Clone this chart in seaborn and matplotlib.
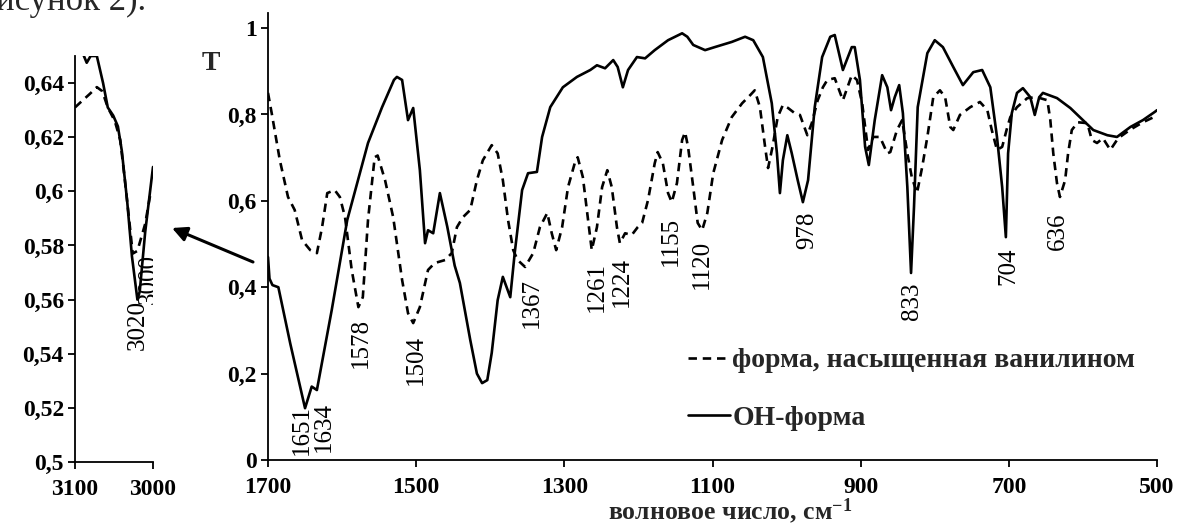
import numpy as np
import pandas as pd
import matplotlib
matplotlib.use("Agg")
import matplotlib.pyplot as plt
import seaborn as sns

# ---------------- data ----------------
oh_wn = [1700, 1698, 1694, 1686, 1670, 1650, 1641, 1634, 1614, 1593, 1565, 1546, 1530, 1526, 1519,
         1511, 1504, 1495, 1488, 1484, 1477, 1468, 1458, 1448, 1441, 1427, 1418, 1411, 1404, 1398,
         1390, 1383, 1373, 1367, 1357, 1349, 1337, 1330, 1319, 1302, 1283, 1265, 1256, 1245, 1234,
         1228, 1221, 1214, 1202, 1191, 1178, 1160, 1141, 1134, 1126, 1110, 1097, 1074, 1056, 1045,
         1032, 1020, 1013, 1009, 1005, 999, 993, 985, 978, 971, 962, 952, 941, 935, 924, 912, 908,
         901, 894, 889, 881, 871, 864, 859, 854, 848, 843, 837, 832, 828, 823, 810, 800, 789, 775,
         762, 748, 736, 725, 716, 709, 704, 701, 696, 689, 681, 671, 665, 659, 654, 635, 617, 600,
         586, 567, 554, 536, 519, 503, 500]
oh_t = [0.47, 0.42, 0.405, 0.400, 0.27, 0.12, 0.17, 0.162, 0.347, 0.556, 0.734, 0.817, 0.88, 0.887, 0.88,
        0.787, 0.815, 0.671, 0.502, 0.532, 0.525, 0.618, 0.54, 0.45, 0.41, 0.278, 0.2, 0.178, 0.185, 0.248,
        0.37, 0.424, 0.377, 0.479, 0.625, 0.664, 0.667, 0.748, 0.817, 0.863, 0.887, 0.903, 0.914, 0.907, 0.926,
        0.91, 0.863, 0.903, 0.933, 0.93, 0.949, 0.972, 0.988, 0.98, 0.961, 0.949, 0.956, 0.968, 0.98, 0.972,
        0.933, 0.826, 0.71, 0.618, 0.694, 0.752, 0.71, 0.648, 0.597, 0.648, 0.817, 0.933, 0.98, 0.984, 0.903, 0.956, 0.956,
        0.88, 0.725, 0.683, 0.787, 0.891, 0.863, 0.81, 0.84, 0.868, 0.803, 0.632, 0.433, 0.586, 0.817, 0.942, 0.972, 0.956, 0.91,
        0.868, 0.898, 0.903, 0.863, 0.748, 0.632, 0.516, 0.71, 0.803, 0.85, 0.861, 0.84, 0.799, 0.84, 0.85, 0.838, 0.815, 0.787,
        0.764, 0.752, 0.748, 0.771, 0.787, 0.806, 0.81]

van_wn = [1700, 1695, 1684, 1673, 1664, 1654, 1643, 1634, 1627, 1620, 1610, 1603, 1596, 1587, 1578,
          1572, 1565, 1556, 1552, 1542, 1531, 1519, 1511, 1504, 1495, 1484, 1475, 1461, 1452, 1445,
          1437, 1427, 1418, 1410, 1398, 1390, 1383, 1376, 1369, 1363, 1353, 1342, 1333, 1323, 1317,
          1311, 1303, 1295, 1286, 1282, 1275, 1268, 1263, 1256, 1249, 1242, 1236, 1229, 1225, 1218,
          1209, 1201, 1195, 1187, 1178, 1174, 1167, 1160, 1155, 1148, 1141, 1137, 1133, 1126, 1120,
          1114, 1107, 1099, 1087, 1074, 1060, 1049, 1043, 1036, 1029, 1025, 1019, 1012, 1005, 998,
          989, 982, 972, 966, 958, 951, 945, 935, 924, 912, 905, 898, 890, 883, 874, 864, 860, 851,
          844, 837, 831, 824, 817, 810, 802, 793, 786, 779, 775, 766, 752, 739, 729, 723, 716, 709,
          702, 698, 689, 675, 662, 648, 644, 640, 635, 631, 624, 620, 615, 607, 594, 588, 581, 573,
          563, 554, 550, 536, 519, 503, 500]
van_t = [0.85, 0.803, 0.694, 0.609, 0.579, 0.509, 0.486, 0.479, 0.539, 0.618, 0.625, 0.609, 0.562, 0.44, 0.354,
         0.377, 0.556, 0.701, 0.705, 0.648, 0.562, 0.417, 0.34, 0.317, 0.354, 0.44, 0.456, 0.463, 0.479, 0.539,
         0.562, 0.579, 0.648, 0.694, 0.729, 0.71, 0.648, 0.556, 0.486, 0.463, 0.447, 0.479, 0.539, 0.572, 0.525,
         0.486, 0.539, 0.632, 0.687, 0.701, 0.655, 0.556, 0.486, 0.539, 0.632, 0.671, 0.632, 0.539, 0.502, 0.525,
         0.521, 0.539, 0.549, 0.602, 0.687, 0.713, 0.687, 0.618, 0.597, 0.641, 0.741, 0.759, 0.725, 0.632, 0.549,
         0.532, 0.572, 0.664, 0.741, 0.794, 0.826, 0.845, 0.856, 0.817, 0.725, 0.676, 0.725, 0.794, 0.822, 0.815,
         0.803, 0.799, 0.752, 0.78, 0.833, 0.863, 0.88, 0.884, 0.833, 0.891, 0.88, 0.826, 0.718, 0.748, 0.748, 0.71, 0.713, 0.764,
         0.787, 0.71, 0.655, 0.618, 0.678, 0.748, 0.84, 0.856, 0.84, 0.771, 0.764, 0.799, 0.817, 0.829, 0.81, 0.764, 0.718, 0.725,
         0.771, 0.794, 0.817, 0.838, 0.84, 0.833, 0.787, 0.71, 0.641, 0.609, 0.648, 0.71, 0.764, 0.782, 0.78, 0.741, 0.734, 0.745,
         0.718, 0.741, 0.748, 0.765, 0.782, 0.795, 0.80]

# inset (3100-3000 cm-1)
oh_in_wn = [3100, 3090, 3085, 3080, 3072, 3064, 3058, 3051, 3045, 3040, 3033, 3027, 3020, 3017, 3010, 3000]
oh_in_t = [0.66, 0.651, 0.6475, 0.650, 0.650, 0.640, 0.631, 0.628, 0.624, 0.615, 0.596, 0.576, 0.560, 0.563, 0.585, 0.609]
van_in_wn = [3100, 3094, 3081, 3072, 3065, 3058, 3049, 3042, 3036, 3030, 3026, 3020, 3010, 3004, 3000]
van_in_t = [0.631, 0.6326, 0.636, 0.6385, 0.637, 0.631, 0.626, 0.619, 0.604, 0.588, 0.577, 0.578, 0.588, 0.598, 0.600]

# peak labels (text, x, y of label top)
peak_text = ["1651", "1634", "1578", "1504", "1367", "1261", "1224", "1155", "1120", "978", "833", "704", "636"]
peak_x = [1654, 1624, 1574, 1500, 1344, 1256, 1222, 1156, 1114, 972, 831, 701, 634]
peak_y = [0.127, 0.134, 0.329, 0.289, 0.421, 0.458, 0.470, 0.5625, 0.509, 0.574, 0.410, 0.491, 0.574]
in_peak_text = ["3020", "3000"]
in_peak_x = [3020, 3006]
in_peak_y = [0.5598, 0.577]

main_xticks = [1700, 1500, 1300, 1100, 900, 700, 500]
main_yticks = [0, 0.2, 0.4, 0.6, 0.8, 1.0]
main_yticklabels = ["0", "0,2", "0,4", "0,6", "0,8", "1"]
in_xticks = [3100, 3000]
in_yticks = [0.5, 0.52, 0.54, 0.56, 0.58, 0.6, 0.62, 0.64]
in_yticklabels = ["0,5", "0,52", "0,54", "0,56", "0,58", "0,6", "0,62", "0,64"]

lab_van = "форма, насыщенная ванилином"
lab_oh = "ОН-форма"

# ---------------- style ----------------
sns.set_theme(style="ticks")
plt.rcParams["font.family"] = ["Liberation Serif", "DejaVu Serif"]
plt.rcParams["mathtext.fontset"] = "custom"
plt.rcParams["mathtext.rm"] = "Liberation Serif:bold"
plt.rcParams["mathtext.default"] = "rm"

W, H = 1177, 524
fig = plt.figure(figsize=(W / 100, H / 100), dpi=100)
ax = fig.add_axes([268 / W, (H - 460) / H, (1157 - 268) / W, (460 - 13) / H])
axi = fig.add_axes([75 / W, (H - 462) / H, (153 - 75) / W, (462 - 56) / H])

LW = 1.9
DASH = (0, (3.2, 2.2))
TICK_FS = 17

df_van = pd.DataFrame({"wn": van_wn, "T": van_t})
df_oh = pd.DataFrame({"wn": oh_wn, "T": oh_t})
sns.lineplot(data=df_van, x="wn", y="T", ax=ax, sort=False, estimator=None, color="black",
             lw=LW, linestyle=DASH, label=lab_van)
sns.lineplot(data=df_oh, x="wn", y="T", ax=ax, sort=False, estimator=None, color="black",
             lw=LW, linestyle="-", label=lab_oh)

df_van_i = pd.DataFrame({"wn": van_in_wn, "T": van_in_t})
df_oh_i = pd.DataFrame({"wn": oh_in_wn, "T": oh_in_t})
sns.lineplot(data=df_van_i, x="wn", y="T", ax=axi, sort=False, estimator=None, color="black",
             lw=LW, linestyle=DASH, legend=False)
sns.lineplot(data=df_oh_i, x="wn", y="T", ax=axi, sort=False, estimator=None, color="black",
             lw=LW, linestyle="-", legend=False)

for a in (ax, axi):
    sns.despine(ax=a)
    for s in ("left", "bottom"):
        a.spines[s].set_color("black")
        a.spines[s].set_linewidth(1.3)
    a.tick_params(axis="both", direction="out", length=5, width=1.3, color="black",
                  labelsize=TICK_FS, labelcolor="black", pad=3)
    a.set_xlabel("")
    a.set_ylabel("")

ax.set_xlim(1700, 500)
ax.set_ylim(0, 1.035)
ax.set_xticks(main_xticks)
ax.set_xticklabels([str(v) for v in main_xticks], fontweight="bold", fontsize=TICK_FS)
ax.set_yticks(main_yticks)
ax.set_yticklabels(main_yticklabels, fontweight="bold", fontsize=TICK_FS)
ax.tick_params(axis="x", pad=7)
ax.set_xlabel("волновое число, см$^{-1}$", fontsize=18.5, fontweight="bold")
ax.xaxis.set_label_coords((730 - 268) / (1157 - 268), (460 - 519) / (460 - 13))
ax.xaxis.label.set_verticalalignment("baseline")

axi.set_xlim(3100, 3000)
axi.set_ylim(0.5, 0.65)
axi.set_xticks(in_xticks)
axi.set_xticklabels([str(v) for v in in_xticks], fontweight="bold", fontsize=TICK_FS)
axi.set_yticks(in_yticks)
axi.set_yticklabels(in_yticklabels, fontweight="bold", fontsize=TICK_FS)
axi.tick_params(axis="x", pad=7)

for s, x, y in zip(peak_text, peak_x, peak_y):
    ax.text(x, y, s, rotation=90, ha="center", va="top", fontsize=18, color="black")
for s, x, y in zip(in_peak_text, in_peak_x, in_peak_y):
    axi.text(x, y, s, rotation=90, ha="center", va="top", fontsize=18, color="black", clip_on=True)

leg = ax.legend(loc="upper left", bbox_to_anchor=(688 / W, 1 - 348 / H), bbox_transform=fig.transFigure,
                frameon=False, fontsize=20, handlelength=1.5, handletextpad=0.1, labelspacing=1.15,
                borderpad=0, borderaxespad=0)
for t in leg.get_texts():
    t.set_fontweight("bold")

fig.text(202 / W, 1 - 63 / H, "T", fontsize=20, fontweight="bold", ha="left", va="center")
fig.text(-4 / W, 1 - 10 / H, "исунок 2).", fontsize=25, ha="left", va="baseline")

ax.annotate("", xy=(172, H - 228), xytext=(253, H - 262), xycoords="figure pixels",
            textcoords="figure pixels",
            arrowprops=dict(arrowstyle="-|>", lw=2.2, color="black", mutation_scale=22,
                            shrinkA=0, shrinkB=0))

fig.savefig("out.png", dpi=100, facecolor="white")
